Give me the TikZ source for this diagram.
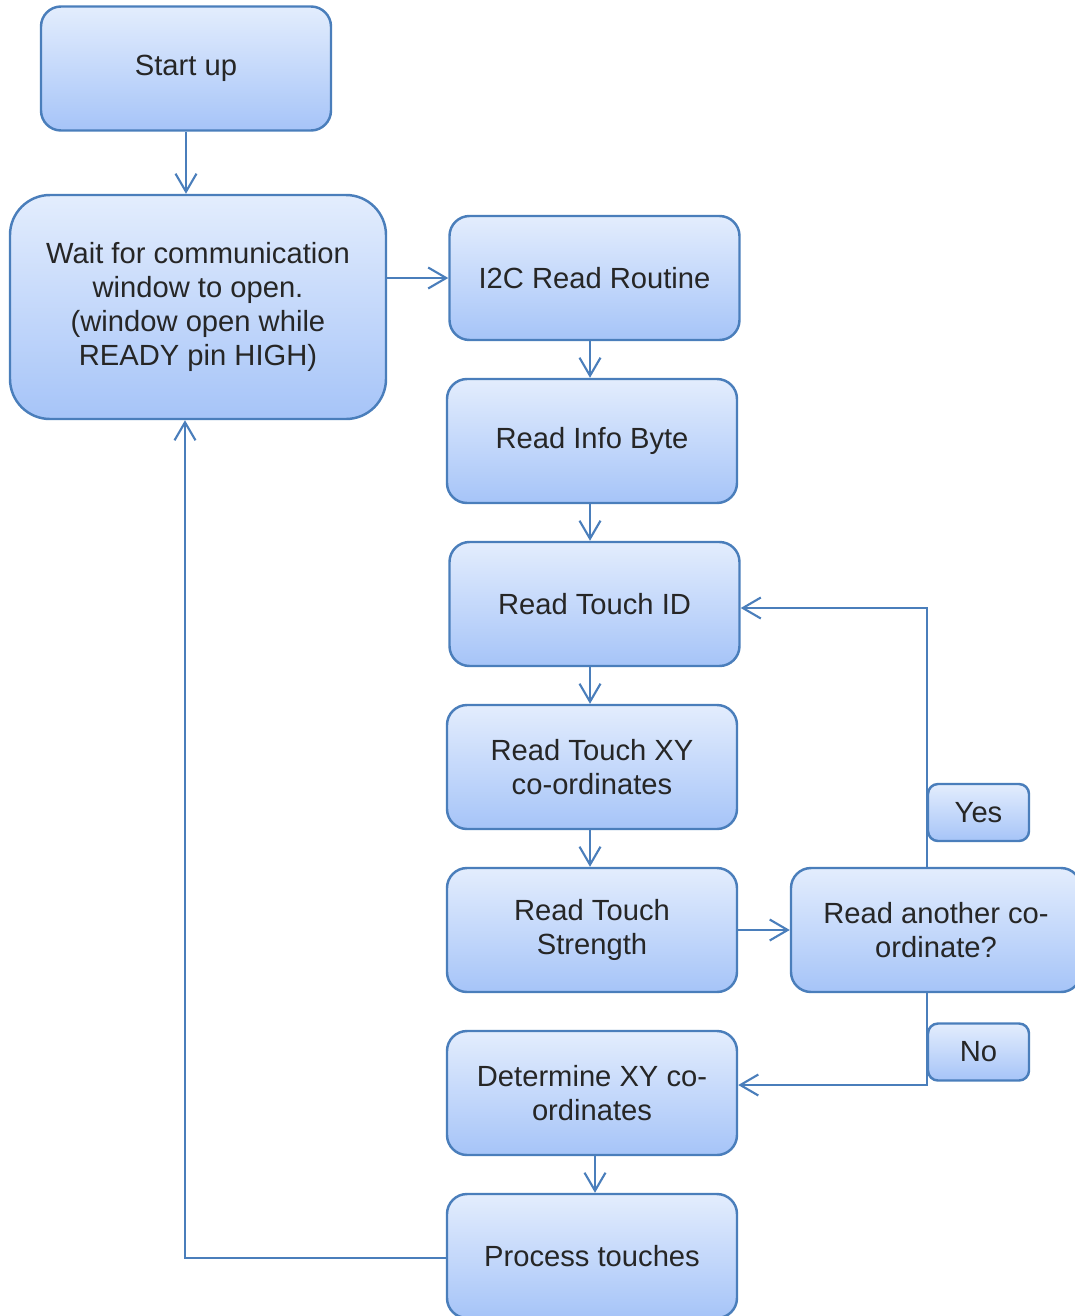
\documentclass[tikz,border=0pt]{standalone}
\usepackage{fontspec}
\setmainfont{Liberation Sans}
\usetikzlibrary{arrows.meta}
\definecolor{boxtop}{HTML}{E3EDFD}
\definecolor{boxbot}{HTML}{A6C4F8}
\definecolor{boxline}{HTML}{4A7EBB}
\definecolor{boxtext}{HTML}{262626}

\begin{document}
\begin{tikzpicture}[
    box/.style={draw=boxline, line width=0.7pt, rounded corners=0.2cm,
        top color=boxtop, bottom color=boxbot, text=boxtext,
        minimum width=2.9cm, minimum height=1.24cm, align=center,
        font=\fontsize{8.3}{9.65}\selectfont},
    tag/.style={box, rounded corners=0.1cm, minimum width=1.01cm, minimum height=0.57cm},
    flow/.style={draw=boxline, line width=0.6pt,
        -{Straight Barb[length=1.8mm,width=2.1mm,line width=0.6pt]}}
    ]
        \useasboundingbox (0,0) rectangle (10.75,-13.16);

        \node[box] (start) at (1.86,-0.685) {Start up};
        \node[box, rounded corners=0.4cm, minimum width=3.76cm, minimum height=2.24cm]
            (wait) at (1.98,-3.07) {Wait for communication\\window to open.\\(window open while\\READY pin HIGH)};
        \node[box] (i2c) at (5.945,-2.78) {I2C Read Routine};
        \node[box] (info) at (5.92,-4.41) {Read Info Byte};
        \node[box] (tid) at (5.945,-6.04) {Read Touch ID};
        \node[box] (txy) at (5.92,-7.67) {Read Touch XY\\co-ordinates};
        \node[box] (tstr) at (5.92,-9.30) {Read Touch\\Strength};
        \node[box] (another) at (9.36,-9.30) {Read another co-\\ordinate?};
        \node[box] (det) at (5.92,-10.93) {Determine XY co-\\ordinates};
        \node[box] (proc) at (5.92,-12.56) {Process touches};
        \node[tag] (yes) at (9.785,-8.125) {Yes};
        \node[tag] (no) at (9.785,-10.52) {No};

        \coordinate (yesturn) at (9.27,-6.08);
        \coordinate (noturn) at (9.27,-10.85);
        \coordinate (back) at (1.85,-12.58);

        \draw [flow] (start.south) -- (start.south |- wait.north);
        \draw [flow] (wait.east |- i2c.west) -- (i2c.west);
        \draw [flow] (i2c.south -| 5.9,0) -- (5.9,0 |- info.north);
        \draw [flow] (info.south -| 5.9,0) -- (5.9,0 |- tid.north);
        \draw [flow] (tid.south -| 5.9,0) -- (5.9,0 |- txy.north);
        \draw [flow] (txy.south -| 5.9,0) -- (5.9,0 |- tstr.north);
        \draw [flow] (tstr.east) -- (another.west);
        \draw [flow] (another.north -| yesturn) -- (yesturn) -- (yesturn -| tid.east);
        \draw [flow] (another.south -| noturn) -- (noturn) -- (noturn -| det.east);
        \draw [flow] (det.south -| 5.95,0) -- (5.95,0 |- proc.north);
        \draw [flow] (proc.west |- back) -- (back) -- (back |- wait.south);

    \end{tikzpicture}
\end{document}
